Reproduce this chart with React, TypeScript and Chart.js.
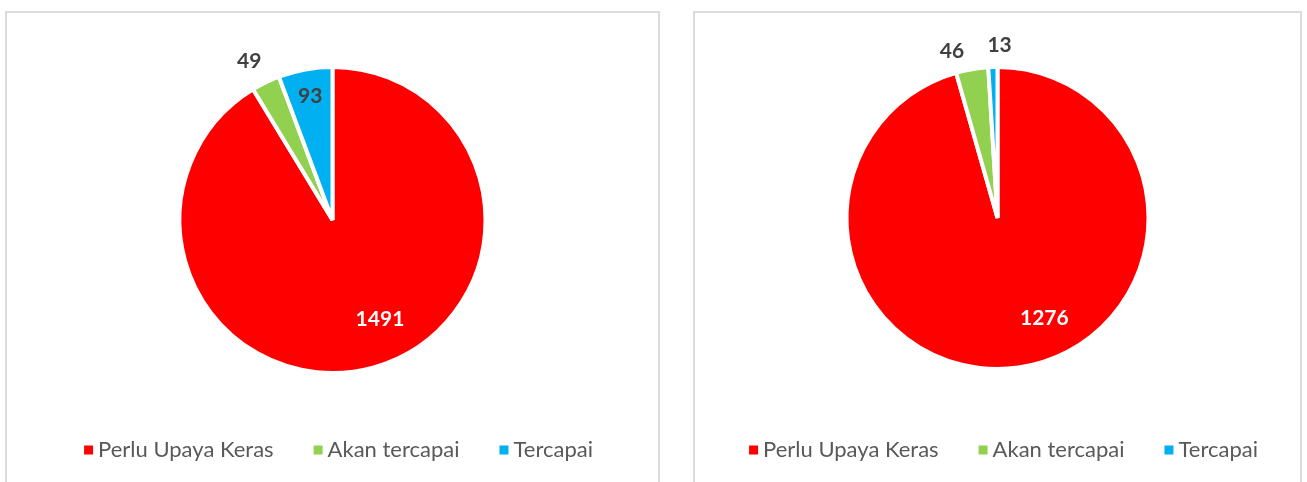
import React, { useEffect, useRef } from "react";
import { Chart, registerables } from "chart.js";

Chart.register(...registerables);

const categories = ["Perlu Upaya Keras", "Akan tercapai", "Tercapai"];
const leftValues = [1491, 49, 93];
const rightValues = [1276, 46, 13];
const sliceColors = ["#FF0000", "#92D050", "#00B0F0"];

const LABEL_FONT = "bold 21px Lato";
const LEGEND_FONT = "22px Lato";

type LabelSpec = {
  mode: "in" | "out";
  along?: number;
  factor?: number;
  angleDeg?: number;
  gap?: number;
  color: string;
};

const leftLabels: LabelSpec[] = [
  { mode: "in", along: 0.47, factor: 0.72, color: "#FFFFFF" },
  { mode: "out", along: 0.33, gap: 26, color: "#404040" },
  { mode: "in", along: 0.5, factor: 0.82, color: "#404040" },
];
const rightLabels: LabelSpec[] = [
  { mode: "in", along: 0.45, factor: 0.73, color: "#FFFFFF" },
  { mode: "out", along: 0.05, gap: 22, color: "#404040" },
  { mode: "out", angleDeg: 0.7, gap: 22, color: "#404040" },
];

const dataLabelPlugin = {
  id: "sliceLabels",
  afterDatasetsDraw(chart: any, _args: any, opts: any) {
    const specs: LabelSpec[] = opts.specs || [];
    const meta = chart.getDatasetMeta(0);
    const values = chart.data.datasets[0].data;
    const ctx = chart.ctx;
    ctx.save();
    ctx.font = LABEL_FONT;
    ctx.textAlign = "center";
    ctx.textBaseline = "middle";
    meta.data.forEach((arc: any, i: number) => {
      const spec = specs[i];
      if (!spec) return;
      const { x, y, startAngle, endAngle, outerRadius } = arc.getProps(
        ["x", "y", "startAngle", "endAngle", "outerRadius"],
        true
      );
      let a: number;
      if (spec.angleDeg !== undefined) {
        a = (spec.angleDeg * Math.PI) / 180 - Math.PI / 2;
      } else {
        a = startAngle + (endAngle - startAngle) * (spec.along ?? 0.5);
      }
      const r =
        spec.mode === "in"
          ? outerRadius * (spec.factor ?? 0.7)
          : outerRadius + (spec.gap ?? 20);
      ctx.fillStyle = spec.color;
      ctx.fillText(String(values[i]), x + Math.cos(a) * r, y + Math.sin(a) * r);
    });
    ctx.restore();
  },
};

const legendPlugin = {
  id: "bottomLegend",
  afterDraw(chart: any, _args: any, opts: any) {
    const ctx = chart.ctx;
    const labels: string[] = chart.data.labels;
    const colors: string[] = chart.data.datasets[0].backgroundColor;
    const box = 9;
    const boxGap = 5;
    const itemGap = 40;
    ctx.save();
    ctx.font = LEGEND_FONT;
    ctx.textBaseline = "middle";
    ctx.textAlign = "left";
    const widths = labels.map((t) => box + boxGap + ctx.measureText(t).width);
    const total = widths.reduce((s, w) => s + w, 0) + itemGap * (labels.length - 1);
    let cx = (chart.width - total) / 2 + (opts.shift || 0);
    const cy = opts.y;
    labels.forEach((t, i) => {
      ctx.fillStyle = colors[i];
      ctx.fillRect(cx, cy - box / 2, box, box);
      ctx.fillStyle = "#595959";
      ctx.fillText(t, cx + box + boxGap, cy);
      cx += widths[i] + itemGap;
    });
    ctx.restore();
  },
};

function PieBox(props: {
  left: number;
  width: number;
  values: number[];
  radius: number;
  padBottom: number;
  specs: LabelSpec[];
}) {
  const ref = useRef<HTMLCanvasElement>(null);
  const top = 11;
  const height = 480;
  useEffect(() => {
    if (!ref.current) return;
    const chart = new Chart(ref.current, {
      type: "pie",
      data: {
        labels: categories,
        datasets: [
          {
            data: props.values,
            backgroundColor: sliceColors,
            borderColor: "#FFFFFF",
            borderWidth: 4,
          },
        ],
      },
      options: {
        responsive: false,
        animation: false,
        devicePixelRatio: 1,
        radius: props.radius,
        layout: { padding: { top: 0, left: 0, right: 0, bottom: props.padBottom } },
        plugins: {
          legend: { display: false },
          tooltip: { enabled: false },
          sliceLabels: { specs: props.specs },
          bottomLegend: { y: 439, shift: 6 },
        } as any,
      } as any,
      plugins: [dataLabelPlugin, legendPlugin],
    });
    return () => chart.destroy();
  }, []);
  return (
    <>
      <div
        style={{
          position: "absolute",
          left: props.left,
          top: top,
          width: props.width,
          height: 500,
          boxSizing: "border-box",
          border: "2px solid #DCDCDC",
          background: "#FFFFFF",
        }}
      />
      <canvas
        ref={ref}
        width={props.width}
        height={height}
        style={{
          position: "absolute",
          left: props.left,
          top: top,
          width: props.width,
          height: height,
          display: "block",
        }}
      />
    </>
  );
}

export default function App() {
  return (
    <div
      style={{
        position: "fixed",
        left: 0,
        top: 0,
        width: 1307,
        height: 482,
        overflow: "hidden",
        background: "#FFFFFF",
      }}
    >
      <PieBox left={5} width={655} values={leftValues} radius={153} padBottom={62} specs={leftLabels} />
      <PieBox left={693} width={609} values={rightValues} radius={151} padBottom={66} specs={rightLabels} />
    </div>
  );
}
